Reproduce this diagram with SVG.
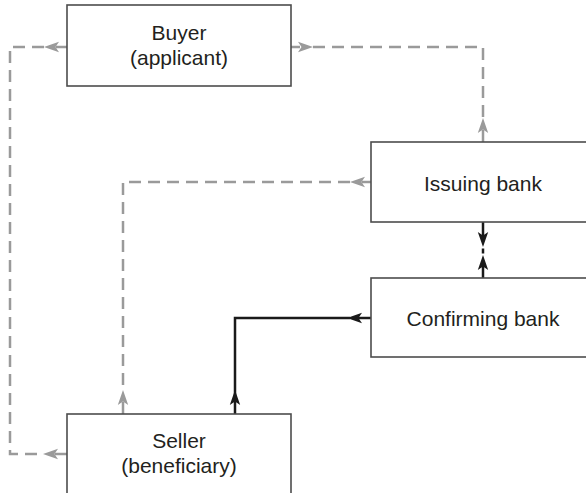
<svg xmlns="http://www.w3.org/2000/svg" xmlns:xlink="http://www.w3.org/1999/xlink" width="586" height="493" viewBox="0 0 586 493">
<style>
.box{fill:#fff;stroke:#4d4d4d;stroke-width:1.6}
.lbl{font-family:"Liberation Sans",Arial,sans-serif;font-size:21px;fill:#231f20;text-anchor:middle}
.g{fill:none;stroke:#9a9a9a;stroke-width:2.5}
.gd{fill:none;stroke:#9a9a9a;stroke-width:2.5;stroke-dasharray:12 7}
.k{fill:none;stroke:#1a1a1a;stroke-width:2.5}
</style>
<defs>
<path id="ag" d="M0,0 L-15,-5.2 L-11.5,0 L-15,5.2 Z" fill="#9a9a9a"/>
<path id="ak" d="M0,0 L-15,-5.2 L-11.5,0 L-15,5.2 Z" fill="#1a1a1a"/>
</defs>
<rect width="586" height="493" fill="#fff"/>
<g id="connectors">
<!-- Buyer left to Seller left -->
<path class="g" d="M67,47 H56"/>
<use xlink:href="#ag" transform="translate(44,47) rotate(180)"/>
<path class="gd" d="M44,47 H10 V454 H40"/>
<path class="g" d="M67,454 H55"/>
<use xlink:href="#ag" transform="translate(43,454) rotate(180)"/>
<!-- Buyer right to Issuing top -->
<path class="g" d="M291,47 H300"/>
<use xlink:href="#ag" transform="translate(313,47)"/>
<path class="gd" d="M313,47 H483 V120"/>
<path class="g" d="M483,142 V130"/>
<use xlink:href="#ag" transform="translate(483,118) rotate(-90)"/>
<!-- Issuing left to Seller top -->
<path class="g" d="M371,182 H362"/>
<use xlink:href="#ag" transform="translate(350,182) rotate(180)"/>
<path class="gd" d="M350,182 H123 V392"/>
<path class="g" d="M123,414 V402"/>
<use xlink:href="#ag" transform="translate(123,390) rotate(-90)"/>
<!-- Confirming left to Seller top (solid) -->
<path class="k" d="M371,318 H358"/>
<use xlink:href="#ak" transform="translate(347,318) rotate(180)"/>
<path class="k" d="M350,318 H235 V402"/>
<path class="k" d="M235,414 V402"/>
<use xlink:href="#ak" transform="translate(235,390) rotate(-90)"/>
<!-- Issuing <-> Confirming -->
<path class="k" d="M483,222 V236"/>
<use xlink:href="#ak" transform="translate(483,247) rotate(90)"/>
<path class="k" d="M483,248.5 V253.5"/>
<path class="k" d="M483,278 V266"/>
<use xlink:href="#ak" transform="translate(483,255) rotate(-90)"/>
</g>
<g id="buyer">
<rect class="box" x="67" y="5" width="224" height="81"/>
<text class="lbl" x="179" y="40">Buyer</text>
<text class="lbl" x="179" y="65">(applicant)</text>
</g>
<g id="issuing">
<rect class="box" x="371" y="142" width="240" height="80"/>
<text class="lbl" x="483" y="191">Issuing bank</text>
</g>
<g id="confirming">
<rect class="box" x="371" y="278" width="240" height="79"/>
<text class="lbl" x="483" y="326">Confirming bank</text>
</g>
<g id="seller">
<rect class="box" x="67" y="414" width="224" height="100"/>
<text class="lbl" x="179" y="448">Seller</text>
<text class="lbl" x="179" y="473">(beneficiary)</text>
</g>
</svg>
